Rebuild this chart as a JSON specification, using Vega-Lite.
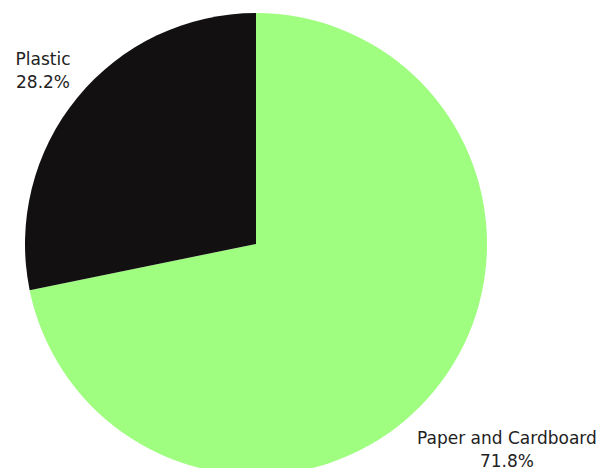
{
  "$schema": "https://vega.github.io/schema/vega-lite/v6.json",
  "autosize": {"type": "none"},
  "padding": {"left": 0, "top": 0, "right": 96, "bottom": 0},
  "width": 512,
  "height": 488,
  "background": "white",
  "config": {"view": {"stroke": null}},
  "data": {"values": [
    {"category": "Paper and Cardboard", "value": 71.8, "label": "Paper and Cardboard\n71.8%"},
    {"category": "Plastic", "value": 28.2, "label": "Plastic\n28.2%"}
  ]},
  "layer": [
    {
      "mark": {"type": "arc", "outerRadius": 231},
      "encoding": {
        "theta": {"field": "value", "type": "quantitative", "stack": true},
        "color": {"field": "category", "type": "nominal", "legend": null,
          "scale": {"domain": ["Paper and Cardboard", "Plastic"], "range": ["#9ffd80", "#121010"]}}
      }
    },
    {
      "mark": {"type": "text", "font": "DejaVu Sans", "fontSize": 17, "lineBreak": "\n", "lineHeight": 23, "color": "#222222", "align": "center", "baseline": "middle", "dy": -10},
      "encoding": {
        "theta": {"field": "value", "type": "quantitative", "stack": true},
        "radius": {"field": "value", "type": "quantitative", "scale": {"type": "linear", "domain": [28.2, 71.8], "range": [275, 324], "zero": false}},
        "detail": {"field": "category", "type": "nominal"},
        "text": {"field": "label", "type": "nominal"}
      }
    }
  ]
}
